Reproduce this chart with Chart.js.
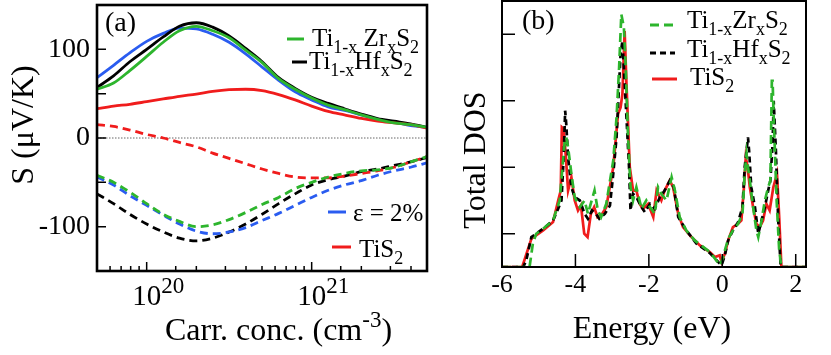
<!DOCTYPE html>
<html>
<head>
<meta charset="utf-8">
<script src="https://cdn.jsdelivr.net/npm/chart.js@4.4.1/dist/chart.umd.min.js"></script>
<style>
  html, body { margin: 0; padding: 0; background: #fff; }
  #wrap { position: relative; width: 831px; height: 355px; }
  #chartA { position: absolute; left: 0; top: 0; }
  #chartB { position: absolute; left: 440px; top: 0; }
</style>
</head>
<body>
<div id="wrap">
  <canvas id="chartA" width="440" height="355"></canvas>
  <canvas id="chartB" width="391" height="355"></canvas>
</div>
<script>
// ---- panel (a): Seebeck coefficient vs carrier concentration ----
const carrConc = [5.0e19, 6.3e19, 7.9e19, 1.0e20, 1.26e20, 1.58e20, 2.0e20, 2.51e20, 3.16e20, 3.98e20, 5.01e20,
                  6.31e20, 7.94e20, 1.0e21, 1.26e21, 1.58e21, 2.0e21, 2.51e21, 3.16e21, 3.98e21, 5.0e21]

// solid = p-type, dashed = n-type
const sZrP     = [55, 62, 76, 92, 108, 121, 126, 121, 113, 99, 85, 67, 55, 45, 37, 32, 26, 21, 17, 15, 12]
const sHfP     = [57, 70, 86, 100, 114, 126, 130, 125, 115, 101, 86, 68, 56, 46, 39, 33, 27, 22, 19, 16, 12]
const sStrainP = [68, 82, 96, 109, 118, 124, 123, 117, 108, 95, 80, 65, 52, 43, 35, 31, 26, 21, 18, 14, 12]
const sTiS2P   = [33, 36, 38, 41, 44, 47, 49.5, 52.5, 54.5, 55, 53.5, 49, 43, 36, 30, 26, 22, 19, 17, 15, 11]

const sZrN     = [-42, -50, -61, -74, -86, -94, -100, -98, -92, -84, -75, -67, -57, -50, -44, -40, -37, -36, -33, -27, -21]
const sHfN     = [-63, -74, -86, -97, -106, -113, -116, -113, -106, -97, -86, -74, -63, -53, -47, -43, -38, -35, -31, -27, -22]
const sStrainN = [-44, -53, -65, -76, -87, -97, -105, -108, -106, -101, -93, -85, -76, -67, -59, -53, -48, -42, -37, -33, -28]
const sTiS2N   = [15, 13, 9, 4, 0, -5, -10, -17, -23, -29, -35, -40, -44, -45, -45, -43, -40, -37, -33, -27, -21]

const sTicks = [-100, -50, 0, 50, 100]
const sTickLabels = ['-100', '', '0', '', '100']

// ---- panel (b): total DOS vs energy ----
const eZr = [-6.0, -5.25, -5.16, -5.07, -4.88, -4.61, -4.43, -4.29, -4.25, -4.2, -4.11, -4.02, -3.88, -3.75, -3.66,
             -3.48, -3.39, -3.3, -3.16, -2.97, -2.88, -2.81, -2.75, -2.68, -2.63, -2.57, -2.5, -2.43, -2.34, -2.2,
             -2.07, -1.97, -1.84, -1.75, -1.66, -1.52, -1.38, -1.29, -1.16, -0.98, -0.75, -0.34, -0.06, 0.02, 0.16,
             0.29, 0.43, 0.55, 0.61, 0.66, 0.7, 0.75, 0.84, 0.93, 0.98, 1.07, 1.16, 1.25, 1.31, 1.35, 1.37, 1.4,
             1.48, 1.55, 1.61, 2.28]
const dosZr = [0, 0, 0.7, 1.0, 1.15, 1.4, 2.0, 3.8, 3.9, 3.6, 2.8, 2.1, 1.8, 2.0, 1.6,
               2.3, 1.7, 1.5, 1.9, 3.2, 4.5, 6.0, 7.6, 7.2, 6.0, 4.0, 2.4, 2.0, 2.4, 1.75,
               2.0, 1.8, 1.6, 2.4, 2.2, 2.0, 2.7, 2.3, 1.5, 1.1, 0.8, 0.45, 0.05, 0.3, 0.85,
               1.1, 1.3, 1.6, 2.8, 3.4, 3.0, 2.6, 1.8, 1.1, 0.9, 1.4, 2.0, 2.4, 2.6, 5.6, 5.6, 4.5,
               2.0, 0.5, 0, 0]

const eHf = [-6.0, -5.42, -5.34, -5.2, -4.88, -4.61, -4.47, -4.38, -4.32, -4.28, -4.25, -4.2, -4.11, -4.02, -3.88,
             -3.75, -3.66, -3.55, -3.44, -3.35, -3.2, -3.06, -2.97, -2.88, -2.81, -2.77, -2.72, -2.68, -2.61, -2.54,
             -2.5, -2.43, -2.34, -2.2, -2.11, -1.97, -1.84, -1.7, -1.57, -1.43, -1.32, -1.2, -0.98, -0.7, -0.34,
             -0.11, -0.02, 0.07, 0.16, 0.29, 0.43, 0.55, 0.61, 0.66, 0.7, 0.73, 0.79, 0.89, 0.98, 1.07, 1.16,
             1.25, 1.31, 1.37, 1.4, 1.46, 1.52, 1.59, 2.28]
const dosHf = [0, 0, 0.2, 0.9, 1.15, 1.4, 1.75, 2.0, 3.3, 4.7, 4.3, 3.3, 2.4, 2.1, 2.0,
               1.6, 1.45, 1.7, 1.6, 1.45, 1.6, 1.85, 2.8, 3.9, 5.5, 6.4, 6.8, 6.0, 4.5, 3.0,
               1.7, 2.2, 2.1, 1.8, 1.65, 1.9, 1.75, 2.1, 2.3, 2.6, 2.4, 1.5, 1.1, 0.7, 0.42,
               0.15, 0.05, 0.35, 0.8, 1.1, 1.35, 1.8, 3.0, 3.5, 3.9, 3.5, 2.4, 1.8, 1.0, 1.4, 1.8,
               2.3, 2.6, 3.7, 5.0, 3.5, 1.5, 0, 0]

const eTiS2 = [-6.0, -5.45, -5.2, -4.88, -4.61, -4.47, -4.4, -4.37, -4.32, -4.26, -4.2, -4.11, -4.02, -3.93, -3.85,
               -3.76, -3.67, -3.58, -3.49, -3.4, -3.27, -3.16, -2.97, -2.84, -2.77, -2.72, -2.66, -2.61, -2.52, -2.43,
               -2.34, -2.25, -2.16, -2.02, -1.88, -1.79, -1.66, -1.57, -1.43, -1.34, -1.2, -1.07, -0.84, -0.61, -0.34,
               -0.2, -0.07, -0.02, 0.07, 0.16, 0.29, 0.43, 0.52, 0.59, 0.64, 0.69, 0.75, 0.84, 0.93, 1.02, 1.11,
               1.2, 1.29, 1.39, 1.49, 1.55, 1.61, 2.28]
const dosTiS2 = [0, 0, 0.85, 1.1, 1.35, 2.0, 2.3, 4.2, 4.15, 3.3, 2.3, 2.7, 2.0, 1.7, 1.85,
                 1.0, 0.9, 1.6, 1.8, 1.5, 1.6, 1.8, 3.0, 4.6, 4.8, 5.2, 7.1, 5.5, 3.0, 2.3,
                 2.3, 1.9, 1.75, 1.9, 1.5, 2.3, 2.0, 2.3, 2.6, 2.4, 1.6, 1.2, 0.9, 0.65, 0.45,
                 0.3, 0.35, 0.15, 0.4, 0.8, 1.2, 1.3, 1.4, 2.4, 3.3, 3.0, 2.4, 1.8, 1.3, 1.2, 1.4,
                 1.9, 1.7, 2.4, 2.8, 1.5, 0, 0]

const energyTicks = [-6, -4, -2, 0, 2]
const dosTicks = [1, 3, 5, 7]

const GREEN = '#2db52d'
const BLUE = '#2a5cf0'
const RED = '#f01c1c'
const BLACK = '#000'
const FONT = 'Liberation Serif'

Chart.defaults.font.family = FONT
Chart.defaults.color = BLACK

const pairs = (xs, ys) => ys.map((v, i) => ({ x: xs[i], y: v }))

// text with sub/superscripts: parts = [[text, 'n' | 'sub' | 'sup'], ...]
function richText(ctx, x, y, parts, size, align) {
  const items = parts.map(([t, k]) => {
    const s = k === 'n' ? size : Math.round(size * 0.72)
    ctx.font = s + 'px ' + FONT
    return { t, k, s, w: ctx.measureText(t).width }
  })
  const total = items.reduce((a, it) => a + it.w, 0)
  let cx = align === 'center' ? x - total / 2 : x
  ctx.textAlign = 'left'
  ctx.textBaseline = 'alphabetic'
  items.forEach(it => {
    ctx.font = it.s + 'px ' + FONT
    const dy = it.k === 'sub' ? size * 0.26 : it.k === 'sup' ? -size * 0.4 : 0
    ctx.fillText(it.t, cx, y + dy)
    cx += it.w
  })
}

function legendLine(ctx, x1, x2, y, color, dash) {
  ctx.save()
  ctx.strokeStyle = color
  ctx.lineWidth = 3
  ctx.setLineDash(dash || [])
  ctx.beginPath(); ctx.moveTo(x1, y); ctx.lineTo(x2, y); ctx.stroke()
  ctx.restore()
}

function fixSize(w, h) {
  return (scale) => {
    if (w) scale.width = w
    if (h) scale.height = h
    scale.paddingTop = 0; scale.paddingBottom = 0
    scale.paddingLeft = 0; scale.paddingRight = 0
  }
}

// ---------------- chart (a) ----------------
const panelA = {
  id: 'panelA',
  beforeDatasetsDraw(chart) {
    const { ctx, chartArea: ca, scales: { y } } = chart
    const y0 = y.getPixelForValue(0)
    ctx.save()
    ctx.strokeStyle = '#666'
    ctx.lineWidth = 1
    ctx.setLineDash([1.5, 1.5])
    ctx.beginPath(); ctx.moveTo(ca.left, y0); ctx.lineTo(ca.right, y0); ctx.stroke()
    ctx.restore()
  },
  afterDraw(chart) {
    const { ctx, chartArea: ca, scales: { x, y } } = chart
    ctx.save()
    ctx.fillStyle = BLACK
    ctx.strokeStyle = BLACK
    // inward ticks
    ctx.lineWidth = 1.5
    ctx.beginPath()
    y.ticks.forEach(t => {
      const py = y.getPixelForValue(t.value)
      ctx.moveTo(ca.left, py); ctx.lineTo(ca.left + 9, py)
    })
    x.ticks.forEach(t => {
      const px = x.getPixelForValue(t.value)
      if (px <= ca.left + 1 || px >= ca.right - 1) return
      const lg = Math.log10(t.value)
      const major = Math.abs(lg - Math.round(lg)) < 1e-6
      ctx.moveTo(px, ca.bottom); ctx.lineTo(px, ca.bottom - (major ? 9 : 5))
    })
    ctx.stroke()
    // frame
    ctx.lineWidth = 2.6
    ctx.strokeRect(ca.left, ca.top, ca.right - ca.left, ca.bottom - ca.top)
    // x tick labels 10^n
    x.ticks.forEach(t => {
      const lg = Math.log10(t.value)
      if (Math.abs(lg - Math.round(lg)) > 1e-6) return
      const px = x.getPixelForValue(t.value)
      ctx.font = '29px ' + FONT
      const w = ctx.measureText('10').width
      ctx.textAlign = 'center'; ctx.textBaseline = 'alphabetic'
      ctx.fillText('10', px, 305)
      ctx.font = '23px ' + FONT
      ctx.textAlign = 'left'
      ctx.fillText(String(Math.round(lg)), px + w / 2, 293)
    })
    // axis titles
    richText(ctx, 165, 340, [['Carr. conc. (cm', 'n'], ['-3', 'sup'], [')', 'n']], 32, 'left')
    ctx.save()
    ctx.translate(33, 125)
    ctx.rotate(-Math.PI / 2)
    ctx.font = '32px ' + FONT
    ctx.textAlign = 'center'; ctx.textBaseline = 'alphabetic'
    ctx.fillText('S (\u03bcV/K)', 0, 0)
    ctx.restore()
    // panel label
    ctx.font = '28px ' + FONT
    ctx.textAlign = 'left'
    ctx.fillText('(a)', 105, 31)
    // legend
    legendLine(ctx, 287, 304, 39, GREEN)
    richText(ctx, 312, 46, [['Ti', 'n'], ['1-x', 'sub'], [' Zr', 'n'], ['x', 'sub'], ['S', 'n'], ['2', 'sub']], 25)
    legendLine(ctx, 292, 307, 62, BLACK)
    richText(ctx, 309, 69, [['Ti', 'n'], ['1-x', 'sub'], ['Hf', 'n'], ['x', 'sub'], ['S', 'n'], ['2', 'sub']], 25)
    legendLine(ctx, 328, 346, 212, BLUE)
    richText(ctx, 353, 221, [['\u03b5 = 2%', 'n']], 25)
    legendLine(ctx, 332, 351, 247, RED)
    richText(ctx, 359, 257, [['TiS', 'n'], ['2', 'sub']], 25)
    ctx.restore()
  }
}

const lineA = (label, ys, color, dashed) => ({
  label,
  data: pairs(carrConc, ys),
  borderColor: color,
  borderWidth: 2.8,
  borderDash: dashed ? [8, 5] : [],
  pointRadius: 0,
  fill: false,
  cubicInterpolationMode: 'monotone'
})

new Chart(document.querySelector('#chartA'), {
  type: 'line',
  data: {
    datasets: [
      lineA('Ti1-xZrxS2 (n)', sZrN, GREEN, true),
      lineA('TiS2 (n)', sTiS2N, RED, true),
      lineA('strain (n)', sStrainN, BLUE, true),
      lineA('Ti1-xHfxS2 (n)', sHfN, BLACK, true),
      lineA('Ti1-xZrxS2', sZrP, GREEN, false),
      lineA('TiS2', sTiS2P, RED, false),
      lineA('Ti1-xHfxS2', sHfP, BLACK, false),
      lineA('\u03b5 = 2%', sStrainP, BLUE, false)
    ]
  },
  options: {
    responsive: false,
    animation: false,
    devicePixelRatio: 1,
    layout: { padding: { left: 0, right: 13, top: 5, bottom: 0 } },
    plugins: { legend: { display: false }, tooltip: { enabled: false } },
    scales: {
      x: {
        type: 'logarithmic',
        min: 5e19,
        max: 5e21,
        grid: { display: false, drawTicks: false },
        border: { display: false },
        ticks: { display: false },
        afterFit: fixSize(0, 84)
      },
      y: {
        min: -150,
        max: 150,
        grid: { display: false, drawTicks: false },
        border: { display: false },
        afterBuildTicks: (scale) => { scale.ticks = sTicks.map(v => ({ value: v })) },
        ticks: {
          padding: 7,
          color: BLACK,
          font: { family: FONT, size: 28 },
          callback: (v) => sTickLabels[sTicks.indexOf(v)] ?? ''
        },
        afterFit: fixSize(97, 0)
      }
    }
  },
  plugins: [panelA]
})

// ---------------- chart (b) ----------------
const panelB = {
  id: 'panelB',
  afterDraw(chart) {
    const { ctx, chartArea: ca, scales: { x, y } } = chart
    ctx.save()
    ctx.fillStyle = BLACK
    ctx.strokeStyle = BLACK
    ctx.lineWidth = 1.5
    ctx.beginPath()
    y.ticks.forEach(t => {
      const py = y.getPixelForValue(t.value)
      ctx.moveTo(ca.left, py); ctx.lineTo(ca.left + 13, py)
    })
    x.ticks.forEach(t => {
      const px = x.getPixelForValue(t.value)
      if (px <= ca.left + 1) return
      ctx.moveTo(px, ca.bottom); ctx.lineTo(px, ca.bottom - 13)
    })
    ctx.stroke()
    ctx.lineWidth = 2
    ctx.strokeRect(ca.left, ca.top, ca.right - ca.left, ca.bottom - ca.top)
    // titles
    ctx.font = '32px ' + FONT
    ctx.textAlign = 'center'; ctx.textBaseline = 'alphabetic'
    ctx.fillText('Energy (eV)', 212, 338)
    ctx.save()
    ctx.translate(45, 160)
    ctx.rotate(-Math.PI / 2)
    ctx.fillText('Total DOS', 0, 0)
    ctx.restore()
    ctx.font = '28px ' + FONT
    ctx.textAlign = 'left'
    ctx.fillText('(b)', 82, 29)
    // legend
    legendLine(ctx, 210, 235, 25, GREEN, [9, 5])
    richText(ctx, 247, 28, [['Ti', 'n'], ['1-x', 'sub'], ['Zr', 'n'], ['x', 'sub'], ['S', 'n'], ['2', 'sub']], 25)
    legendLine(ctx, 210, 235, 53, BLACK, [6, 4])
    richText(ctx, 247, 57, [['Ti', 'n'], ['1-x', 'sub'], ['Hf', 'n'], ['x', 'sub'], ['S', 'n'], ['2', 'sub']], 25)
    legendLine(ctx, 212, 237, 79, RED)
    richText(ctx, 250, 85, [['TiS', 'n'], ['2', 'sub']], 25)
    ctx.restore()
  }
}

const lineB = (label, xs, ys, color, dash) => ({
  label,
  data: pairs(xs, ys),
  borderColor: color,
  borderWidth: 2.7,
  borderDash: dash,
  pointRadius: 0,
  fill: false,
  tension: 0
})

new Chart(document.querySelector('#chartB'), {
  type: 'line',
  data: {
    datasets: [
      lineB('Ti1-xZrxS2', eZr, dosZr, GREEN, [9, 5]),
      lineB('Ti1-xHfxS2', eHf, dosHf, BLACK, [6, 4]),
      lineB('TiS2', eTiS2, dosTiS2, RED, [])
    ]
  },
  options: {
    responsive: false,
    animation: false,
    devicePixelRatio: 1,
    layout: { padding: { left: 0, right: 25, top: 1, bottom: 0 } },
    plugins: { legend: { display: false }, tooltip: { enabled: false } },
    scales: {
      x: {
        type: 'linear',
        min: -6,
        max: 2.28,
        grid: { display: false, drawTicks: false },
        border: { display: false },
        afterBuildTicks: (scale) => { scale.ticks = energyTicks.map(v => ({ value: v })) },
        ticks: {
          padding: 3,
          color: BLACK,
          font: { family: FONT, size: 26 },
          maxRotation: 0,
          callback: (v) => String(v)
        },
        afterFit: fixSize(0, 88)
      },
      y: {
        min: 0,
        max: 8,
        grid: { display: false, drawTicks: false },
        border: { display: false },
        afterBuildTicks: (scale) => { scale.ticks = dosTicks.map(v => ({ value: v })) },
        ticks: { display: false },
        afterFit: fixSize(62, 0)
      }
    }
  },
  plugins: [panelB]
})
</script>
</body>
</html>
